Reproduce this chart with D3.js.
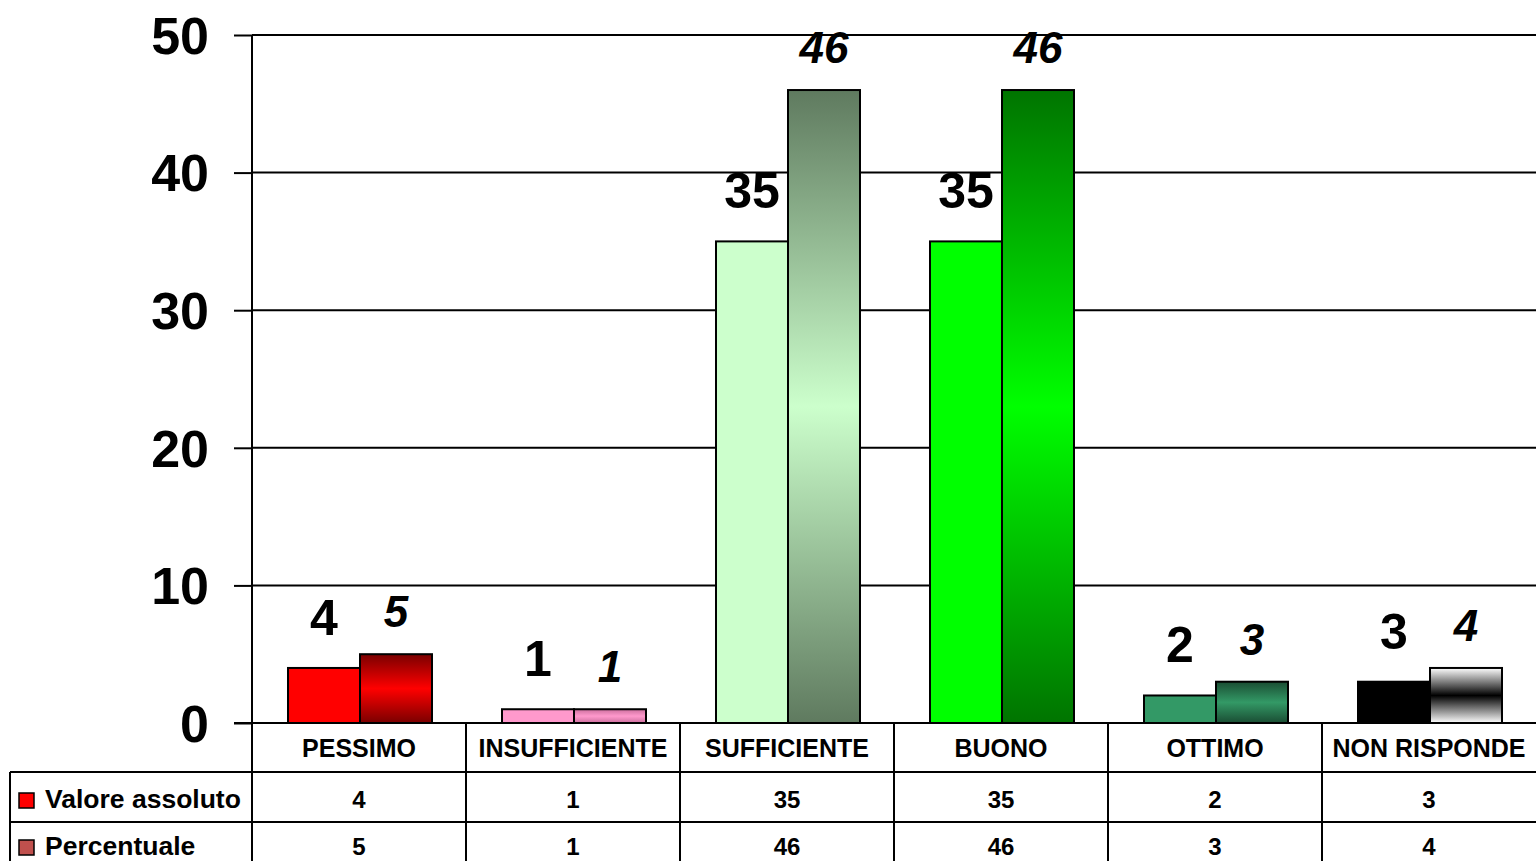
<!DOCTYPE html>
<html><head><meta charset="utf-8">
<script src="https://cdn.jsdelivr.net/npm/d3@7"></script>
<style>
html,body{margin:0;padding:0;background:#fff;overflow:hidden;}
svg{display:block;font-family:"Liberation Sans",Arial,sans-serif;}
</style></head>
<body>
<svg id="chart" width="1536" height="861"></svg>
<script>
const categories = ["PESSIMO","INSUFFICIENTE","SUFFICIENTE","BUONO","OTTIMO","NON RISPONDE"];
const valoreAssoluto = [4,1,35,35,2,3];
const percentuale = [5,1,46,46,3,4];
const yTicks = [0,10,20,30,40,50];
const seriesNames = ["Valore assoluto","Percentuale"];
const valueColors = ["#ff0000","#ff99cc","#ccffcc","#00ff00","#339966","#000000"];
const pctEdgeColors = ["#7a0000","#cc6f9e","#5f7a5f","#007400","#1a4d33","#ffffff"];
const pctCenterColors = ["#ff0000","#ff99cc","#ccffcc","#00ff00","#339966","#000000"];
const legendColors = ["#ff0000","#c0504d"];

const svg = d3.select("#chart");
const W = 1536, H = 861;
const pLeft = 252, pRight = 1536, pTop = 35, pBottom = 723;
const font = '"Liberation Sans",Arial,sans-serif';

const x0 = d3.scaleBand().domain(categories).range([pLeft,pRight]).padding(0);
const x1 = d3.scaleBand().domain(["v","p"]).range([36, x0.bandwidth()-34]).padding(0);
const y = d3.scaleLinear().domain([0,50]).range([pBottom,pTop]);

// gradients
const defs = svg.append("defs");
categories.forEach((c,i)=>{
  const g = defs.append("linearGradient").attr("id","g"+i)
    .attr("x1",0).attr("y1",0).attr("x2",0).attr("y2",1);
  g.append("stop").attr("offset","0%").attr("stop-color",pctEdgeColors[i]);
  g.append("stop").attr("offset","50%").attr("stop-color",pctCenterColors[i]);
  g.append("stop").attr("offset","100%").attr("stop-color",pctEdgeColors[i]);
});

// gridlines
svg.append("g").selectAll("line").data(yTicks).join("line")
  .attr("x1",pLeft).attr("x2",pRight)
  .attr("y1",d=>y(d)).attr("y2",d=>y(d))
  .attr("stroke","#000").attr("stroke-width",2);

// y axis
const yAxis = d3.axisLeft(y).tickValues(yTicks).tickSize(18).tickPadding(25).tickFormat(d3.format("d"));
const ya = svg.append("g").attr("transform",`translate(${pLeft},0)`).call(yAxis);
ya.select(".domain").remove();
ya.selectAll(".tick line").attr("stroke","#000").attr("stroke-width",2);
ya.selectAll(".tick text").attr("font-family",font).attr("font-size",52).attr("font-weight","bold").attr("fill","#000").attr("dy","0.35em");

// bars
const groups = svg.append("g").selectAll("g").data(categories).join("g")
  .attr("transform",d=>`translate(${x0(d)},0)`);
groups.append("rect")
  .attr("x",x1("v")).attr("width",x1.bandwidth())
  .attr("y",(d,i)=>y(valoreAssoluto[i])).attr("height",(d,i)=>y(0)-y(valoreAssoluto[i]))
  .attr("fill",(d,i)=>valueColors[i]).attr("stroke","#000").attr("stroke-width",2);
groups.append("rect")
  .attr("x",x1("p")).attr("width",x1.bandwidth())
  .attr("y",(d,i)=>y(percentuale[i])).attr("height",(d,i)=>y(0)-y(percentuale[i]))
  .attr("fill",(d,i)=>`url(#g${i})`).attr("stroke","#000").attr("stroke-width",2);

// labels
groups.append("text")
  .attr("x",x1("v")+x1.bandwidth()/2).attr("y",(d,i)=>y(valoreAssoluto[i])-33)
  .attr("text-anchor","middle").attr("font-family",font).attr("font-size",50).attr("font-weight","bold")
  .text((d,i)=>valoreAssoluto[i]);
groups.append("text")
  .attr("x",x1("p")+x1.bandwidth()/2).attr("y",(d,i)=>y(percentuale[i])-27)
  .attr("text-anchor","middle").attr("font-family",font).attr("font-size",44).attr("font-weight","bold").attr("font-style","italic")
  .text((d,i)=>percentuale[i]);

// axis baseline
svg.append("line").attr("x1",234).attr("x2",pRight).attr("y1",pBottom).attr("y2",pBottom)
  .attr("stroke","#000").attr("stroke-width",2);

// data table
const tbl = svg.append("g");
tbl.append("line").attr("x1",pLeft).attr("x2",pLeft).attr("y1",pTop).attr("y2",H).attr("stroke","#000").attr("stroke-width",2);
tbl.selectAll("line.div").data(categories.slice(1)).join("line").attr("class","div")
  .attr("x1",d=>x0(d)).attr("x2",d=>x0(d)).attr("y1",pBottom).attr("y2",H)
  .attr("stroke","#000").attr("stroke-width",2);
[772,822].forEach(yy=>{
  tbl.append("line").attr("x1",10).attr("x2",pRight).attr("y1",yy).attr("y2",yy).attr("stroke","#000").attr("stroke-width",2);
});
tbl.append("line").attr("x1",10).attr("x2",10).attr("y1",772).attr("y2",H).attr("stroke","#000").attr("stroke-width",2);

tbl.selectAll("text.hdr").data(categories).join("text").attr("class","hdr")
  .attr("x",d=>x0(d)+x0.bandwidth()/2).attr("y",757)
  .attr("text-anchor","middle").attr("font-family",font).attr("font-size",25).attr("font-weight","bold")
  .text(d=>d);
const rows = [valoreAssoluto, percentuale];
const baselines = [808, 855];
rows.forEach((r,ri)=>{
  tbl.selectAll("text.r"+ri).data(categories).join("text").attr("class","r"+ri)
    .attr("x",d=>x0(d)+x0.bandwidth()/2).attr("y",baselines[ri])
    .attr("text-anchor","middle").attr("font-family",font).attr("font-size",24).attr("font-weight","bold")
    .text((d,i)=>r[i]);
  tbl.append("rect").attr("x",19).attr("y",baselines[ri]-15).attr("width",15).attr("height",15)
    .attr("fill",legendColors[ri]).attr("stroke","#000").attr("stroke-width",1.5);
  tbl.append("text").attr("x",45).attr("y",baselines[ri])
    .attr("font-family",font).attr("font-size",26.5).attr("font-weight","bold")
    .text(seriesNames[ri]);
});
</script>
</body></html>
